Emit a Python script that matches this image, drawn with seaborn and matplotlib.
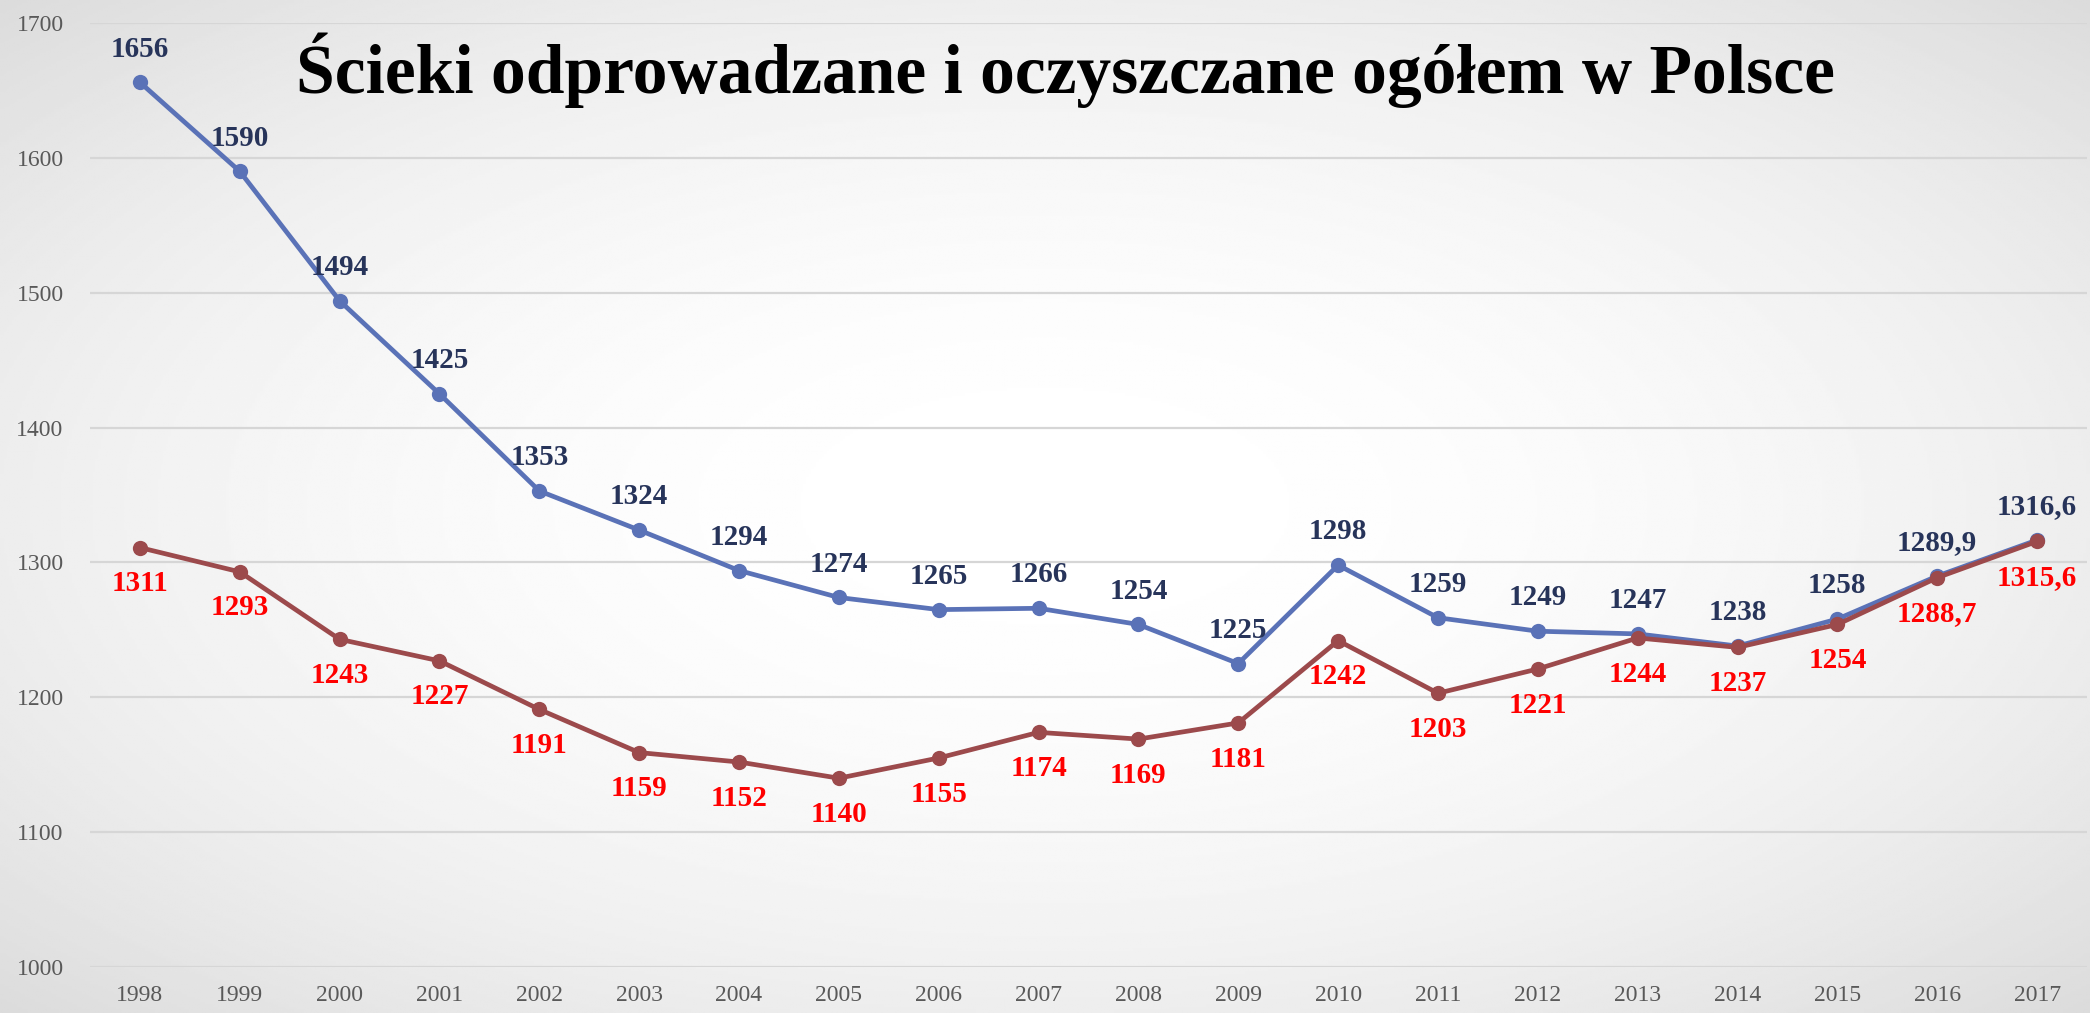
import numpy as np
import pandas as pd
import matplotlib.pyplot as plt
import seaborn as sns

years = [str(y) for y in range(1998, 2018)]
odprowadzane = [1656, 1590, 1494, 1425, 1353, 1324, 1294, 1274, 1265, 1266,
                1254, 1225, 1298, 1259, 1249, 1247, 1238, 1258, 1289.9, 1316.6]
oczyszczane = [1311, 1293, 1243, 1227, 1191, 1159, 1152, 1140, 1155, 1174,
               1169, 1181, 1242, 1203, 1221, 1244, 1237, 1254, 1288.7, 1315.6]
series_names = ["odprowadzane", "oczyszczane"]
title = "Ścieki odprowadzane i oczyszczane ogółem w Polsce"

sns.set_style("white")
plt.rcParams['font.family'] = ['Liberation Serif', 'DejaVu Serif']

df = pd.DataFrame({
    "rok": years * 2,
    "wartosc": odprowadzane + oczyszczane,
    "seria": [series_names[0]] * len(years) + [series_names[1]] * len(years),
})

fig = plt.figure(figsize=(20.9, 10.13), dpi=100)

# radial grey-to-white background
bg = fig.add_axes([0, 0, 1, 1], zorder=-10)
yy, xx = np.mgrid[-1:1:400j, -1:1:800j]
r2 = (xx ** 2 + yy ** 2) / 2
bg.imshow(1 - 0.14 * r2, cmap='gray', vmin=0, vmax=1, aspect='auto',
          extent=[0, 1, 0, 1])
bg.axis('off')

ax = fig.add_axes([90 / 2090, 46 / 1013, 1997 / 2090, 944 / 1013])
ax.patch.set_alpha(0)

line_colors = {"odprowadzane": "#5A72B7", "oczyszczane": "#9C4A4C"}
sns.lineplot(data=df, x="rok", y="wartosc", hue="seria", palette=line_colors,
             marker="o", markersize=11, markeredgewidth=0, linewidth=3.4,
             ax=ax, legend=False, sort=False)


def fmt(v):
    return str(int(v)) if float(v).is_integer() else f"{v:.1f}".replace(".", ",")


for i, v in enumerate(odprowadzane):
    ax.annotate(fmt(v), (i, v), xytext=(0, 24), textcoords='offset points',
                ha='center', va='center', fontsize=21, fontweight='bold',
                color="#27345A")
for i, v in enumerate(oczyszczane):
    ax.annotate(fmt(v), (i, v), xytext=(0, -26), textcoords='offset points',
                ha='center', va='center', fontsize=21, fontweight='bold',
                color="#FF0000")

ax.set_xlim(-0.5, len(years) - 0.5)
ax.set_ylim(1000, 1700)
ax.set_yticks(range(1000, 1701, 100))
ax.yaxis.grid(True, color="#D6D6D6", linewidth=1.6)
ax.set_axisbelow(True)
for s in ax.spines.values():
    s.set_visible(False)
ax.tick_params(axis='both', length=0, labelsize=17, labelcolor="#595959")
ax.tick_params(axis='y', pad=19)
ax.tick_params(axis='x', pad=13)
ax.set_xlabel("")
ax.set_ylabel("")

fig.text(1065 / 2090, 1 - 93 / 1013, title, ha='center', va='baseline',
         fontsize=50, fontweight='bold', color='black')

fig.savefig("out.png", dpi=100)
